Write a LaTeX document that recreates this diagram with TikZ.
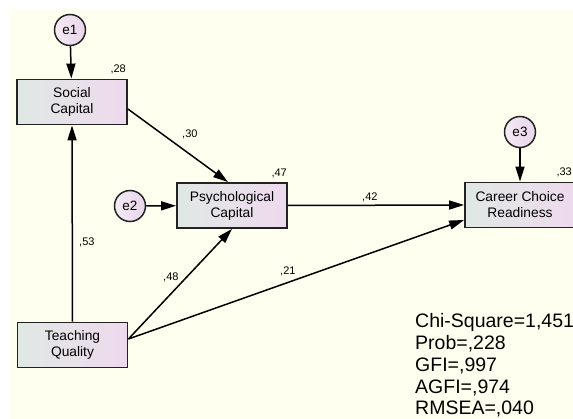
\documentclass[tikz,border=0pt]{standalone}
\usepackage{fontspec}
\setmainfont{Liberation Sans}
\usetikzlibrary{arrows.meta}
\definecolor{cream}{RGB}{255,255,240}
\definecolor{boxL}{RGB}{224,232,228}
\definecolor{boxR}{RGB}{238,218,238}
\definecolor{circL}{RGB}{244,234,244}
\definecolor{circR}{RGB}{232,214,234}
\definecolor{edge}{RGB}{34,34,34}
\tikzset{
  obs/.style={draw=edge, line width=1.8pt, minimum width=110pt, minimum height=45pt,
    left color=boxL, right color=boxR, align=center, inner sep=0pt,
    font=\fontsize{13.8}{16}\selectfont},
  err/.style={circle, draw=edge, line width=1.5pt, minimum size=31pt, inner sep=0pt,
    left color=circL, right color=circR, font=\fontsize{13.5}{16}\selectfont},
  arr/.style={line width=1.5pt, draw=black, -{Triangle[length=15pt,width=9pt]}},
  lab/.style={font=\fontsize{11}{13}\selectfont, inner sep=0pt},
  fit/.style={anchor=base west, inner sep=0pt, font=\fontsize{19.5}{22}\selectfont}
}
\begin{document}
\begin{tikzpicture}[x=1pt,y=-1pt]
\useasboundingbox (0,0) rectangle (573,419);
\fill[cream] (10,9) rectangle (573,419);

\node[obs] (SC) at (72,102) {Social\\Capital};
\node[obs] (PC) at (232,205.5) {Psychological\\Capital};
\node[obs] (CCR) at (520,205) {Career Choice\\Readiness};
\node[obs] (TQ) at (72.5,345) {Teaching\\Quality};

\node[err] (e1) at (70,30) {e1};
\node[err] (e2) at (130,206) {e2};
\node[err] (e3) at (520,132) {e3};

\draw[arr] (e1) -- (SC);
\draw[arr] (e2) -- (PC);
\draw[arr] (e3) -- (CCR);
\draw[arr] (TQ.north) -- (SC.south);
\draw[arr] ([yshift=-7pt]SC.east) -- ([xshift=-4pt]PC.north);
\draw[arr] ([yshift=6pt]TQ.east) -- (PC.south);
\draw[arr] ([yshift=6pt]TQ.east) -- ([yshift=-15pt]CCR.west);
\draw[arr] (PC.east) -- (CCR.west);

\node[lab, anchor=base east] (l28) at (126,73) {,28};
\node[lab, anchor=base east] (l47) at (287,177) {,47};
\node[lab, anchor=base east] (l33) at (572,176) {,33};
\node[lab, anchor=base west] (l30) at (182,138) {,30};
\node[lab, anchor=base west] (l53) at (79,246) {,53};
\node[lab, anchor=base west] (l48) at (163,281) {,48};
\node[lab, anchor=base west] (l21) at (280,275) {,21};
\node[lab, anchor=base west] (l42) at (362,201) {,42};

\node[fit] (f1) at (415,328) {Chi-Square=1,451};
\node[fit] (f2) at (415,350) {Prob=,228};
\node[fit] (f3) at (415,372) {GFI=,997};
\node[fit] (f4) at (415,393.5) {AGFI=,974};
\node[fit] (f5) at (415,415) {RMSEA=,040};
\end{tikzpicture}
\end{document}
